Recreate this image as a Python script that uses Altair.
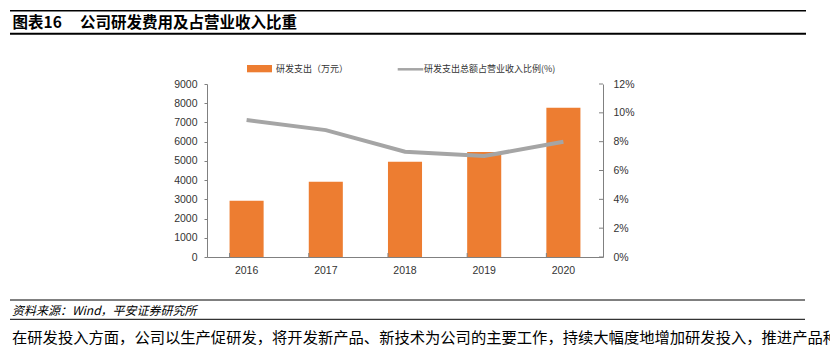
import altair as alt
import pandas as pd

# ---- data ----
years = ["2016", "2017", "2018", "2019", "2020"]
rd_spend = [2920, 3910, 4960, 5460, 7760]          # 研发支出（万元）
rd_ratio = [0.095, 0.088, 0.073, 0.070, 0.080]    # 研发支出总额占营业收入比例
left_ticks = [0, 1000, 2000, 3000, 4000, 5000, 6000, 7000, 8000, 9000]
right_ticks = [0, 0.02, 0.04, 0.06, 0.08, 0.10, 0.12]

fig_label = "图表16"
fig_title = "公司研发费用及占营业收入比重"
legend_bar = "研发支出（万元）"
legend_line = "研发支出总额占营业收入比例(%)"
source_text = "资料来源：Wind，平安证券研究所"
body_text = "在研发投入方面，公司以生产促研发，将开发新产品、新技术为公司的主要工作，持续大幅度地增加研发投入，推进产品种"

df = pd.DataFrame({"year": years, "rd": rd_spend, "ratio": rd_ratio})
tick_df = pd.DataFrame({"v": right_ticks})
one = pd.DataFrame({"k": [0]})

W, H = 396, 173
ORANGE = "#ED7D31"
GREY = "#A5A5A5"
AXIS_C = "#808080"
LAB_C = "#333333"
NUM_FONT = "Liberation Sans"
CJK = "Noto Sans CJK SC"

xscale = alt.Scale(paddingInner=0.57, paddingOuter=0.285)
xaxis = alt.Axis(title=None, labelAngle=0, tickSize=0, labelPadding=8,
                 domainColor=AXIS_C, labelColor=LAB_C, labelFont=NUM_FONT,
                 labelFontSize=10.5)
xenc = alt.X("year:N", sort=years, scale=xscale, axis=xaxis)

bars = alt.Chart(df).mark_bar(color=ORANGE).encode(
    x=xenc,
    y=alt.Y("rd:Q", scale=alt.Scale(domain=[0, 9000], nice=False),
            axis=alt.Axis(title=None, values=left_ticks, format="d", orient="left",
                          tickSize=3, tickColor=AXIS_C, domainColor=AXIS_C,
                          labelPadding=7, labelColor=LAB_C, labelFont=NUM_FONT,
                          labelFontSize=10.5, grid=False)),
)

xticks = alt.Chart(df).mark_rule(color=AXIS_C, strokeWidth=1).encode(
    x=alt.X("year:N", sort=years, bandPosition=0, scale=xscale, axis=xaxis),
    y=alt.value(H - 4),
    y2=alt.value(H),
)

line = alt.Chart(df).mark_line(color=GREY, strokeWidth=4).encode(
    x=xenc,
    y=alt.Y("ratio:Q", scale=alt.Scale(domain=[0, 0.12], nice=False),
            axis=alt.Axis(title=None, values=right_ticks, format=".0%", orient="right",
                          tickSize=0, domainColor=AXIS_C, labelPadding=10,
                          labelColor=LAB_C, labelFont=NUM_FONT, labelFontSize=10.5,
                          grid=False)),
)

rticks = alt.Chart(tick_df).mark_rule(color=AXIS_C, strokeWidth=1).encode(
    y=alt.Y("v:Q", scale=alt.Scale(domain=[0, 0.12], nice=False), axis=None),
    x=alt.value(W - 4),
    x2=alt.value(W),
)

base = alt.Chart(one)

def txt(s, x, y, size, bold=False, italic=False, font=CJK, color="#000000"):
    return base.mark_text(
        text=s, align="left", baseline="middle", font=font, fontSize=size,
        fontWeight="bold" if bold else "normal",
        fontStyle="italic" if italic else "normal", color=color,
    ).encode(x=alt.value(x), y=alt.value(y))

def hrule(x1, x2, y, w, color="#000000"):
    return base.mark_rule(color=color, strokeWidth=w).encode(
        x=alt.value(x1), x2=alt.value(x2), y=alt.value(y))

OX, OY = 207, 84  # plot origin in page coords

deco = [
    hrule(10 - OX, 806 - OX, 10.8 - OY, 1.5),
    hrule(10 - OX, 806 - OX, 33.7 - OY, 2),
    txt(fig_label, 12.5 - OX, 23 - OY, 15.5, bold=True),
    txt(fig_title, 80 - OX, 23 - OY, 15.5, bold=True),
    base.mark_rect(color=ORANGE).encode(
        x=alt.value(247 - OX), x2=alt.value(272 - OX),
        y=alt.value(65 - OY), y2=alt.value(72.3 - OY)),
    txt(legend_bar, 276 - OX, 69 - OY, 9, color=LAB_C),
    base.mark_rule(color=GREY, strokeWidth=2.5).encode(
        x=alt.value(397.7 - OX), x2=alt.value(423.3 - OX), y=alt.value(69.3 - OY)),
    txt(legend_line, 424 - OX, 69 - OY, 9, color=LAB_C),
    hrule(10 - OX, 805 - OX, 300 - OY, 1),
    hrule(10 - OX, 805 - OX, 319.3 - OY, 1),
    txt(source_text, 12 - OX, 310.5 - OY, 12, italic=True),
    txt(body_text, 12 - OX, 338 - OY, 15.3),
]

chart = alt.layer(bars, xticks, line, rticks, *deco).resolve_scale(
    y="independent"
).properties(
    width=W, height=H,
    autosize=alt.AutoSizeParams(type="none"),
    padding={"left": OX, "top": OY, "right": 830 - OX - W, "bottom": 349 - OY - H},
    background="white",
).configure_view(stroke=None)

chart.save("out.html", embed_options={"renderer": "svg", "actions": False})
